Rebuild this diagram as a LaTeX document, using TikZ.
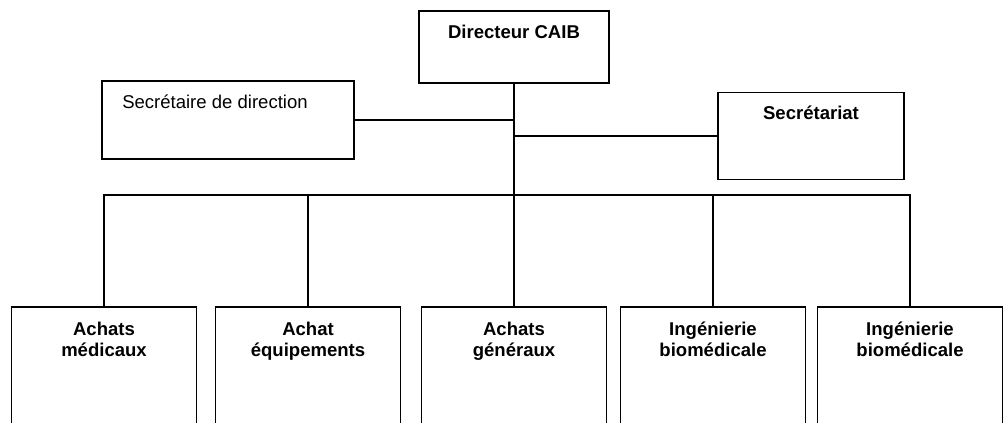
\documentclass[tikz,border=0pt]{standalone}
\usepackage{fontspec}
\setmainfont{Liberation Sans}

\begin{document}
\begin{tikzpicture}[
  x=0.75pt, y=-0.75pt,
  font=\fontsize{13.9}{15.8}\selectfont,
  box/.style  = {draw, line width=1.4pt, inner sep=0pt},
  top/.style  = {box, minimum width=142.5pt, minimum height=54pt},
  unit/.style = {box, minimum width=138.75pt, minimum height=120pt},
  head/.style = {inner sep=0pt, anchor=base, font=\fontsize{13.9}{15.8}\selectfont\bfseries},
  sub/.style  = {head, align=center},
  link/.style = {line width=1.4pt}
]
\useasboundingbox (0,0) rectangle (1006,423);
\clip (0,0) rectangle (1006,423);

% ---------------------------------------------------------------- la tete --
\node[top]                                              (dir)  at (514,47)  {};
\node[head]                                             (dirt) at (514,39)  {Directeur CAIB};

\node[box, minimum width=189pt, minimum height=58.5pt]  (sec)  at (228,120) {};
\node[inner sep=0pt, anchor=base west]                  (sect) at (122,109) {Secrétaire de direction};

\node[box, minimum width=139.5pt, minimum height=65.25pt] (scr) at (811,136) {};
\node[head]                                             (scrt) at (811,120) {Secrétariat};

% ---------------------------------------------------------- les services --
\node[unit] (m1) at (104,387) {};
\node[unit] (m2) at (308,387) {};
\node[unit] (m3) at (514,387) {};
\node[unit] (m4) at (713,387) {};
\node[unit] (m5) at (910,387) {};
\node[sub]  (m1t) at (104,357) {Achats\\médicaux};
\node[sub]  (m2t) at (308,357) {Achat\\équipements};
\node[sub]  (m3t) at (514,357) {Achats\\généraux};
\node[sub]  (m4t) at (713,357) {Ingénierie\\biomédicale};
\node[sub]  (m5t) at (910,357) {Ingénierie\\biomédicale};

% ------------------------------------------------------------------ liens --
\coordinate (bus) at (514,195);
\draw[link] (dir.south) -- (bus);
\draw[link] (sec.east) -- (sec.east -| dir.south);
\draw[link] (scr.west) -- (scr.west -| dir.south);
\draw[link] (m1.north) -- (m1.north |- bus) -- (m5.north |- bus) -- (m5.north);
\draw[link] (m2.north) -- (m2.north |- bus);
\draw[link] (m3.north) -- (m3.north |- bus);
\draw[link] (m4.north) -- (m4.north |- bus);

\end{tikzpicture}
\end{document}
